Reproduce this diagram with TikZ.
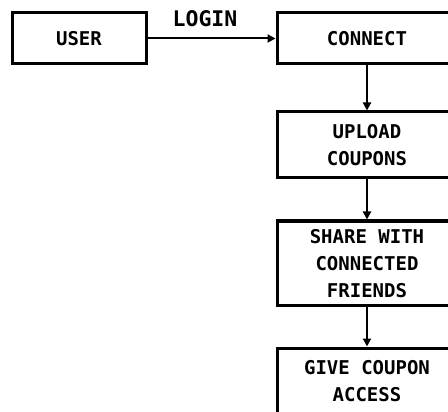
\documentclass[tikz,border=0pt]{standalone}
\usepackage{fontspec}
\setmonofont{DejaVu Sans Mono}
\usetikzlibrary{arrows.meta}
\begin{document}
\begin{tikzpicture}[x=1pt,y=-1pt,
  box/.style={draw=black, line width=3pt, inner sep=0pt, align=center,
    font=\ttfamily\bfseries\fontsize{19}{27}\selectfont},
  multi/.style={text depth=-6pt},
  conn/.style={line width=2pt, -{Triangle[length=8pt,width=8pt]}}]
\useasboundingbox (0,0) rectangle (448,412);
\clip (0,0) rectangle (448,412);
\fill[white] (0,0) rectangle (448,412);
\node[box, minimum width=134pt, minimum height=51pt] (user) at (79,38.5) {USER};
\node[box, minimum width=180pt, minimum height=51pt] (connect) at (367,38.5) {CONNECT};
\node[box, multi, minimum width=180pt, minimum height=66pt] (upload) at (367,145) {UPLOAD\\COUPONS};
\node[box, multi, minimum width=180pt, minimum height=84pt] (share) at (367,263) {SHARE WITH\\CONNECTED\\FRIENDS};
\node[box, multi, minimum width=180pt, minimum height=66pt] (give) at (367,381) {GIVE COUPON\\ACCESS};
\node[anchor=base, inner sep=0pt, font=\ttfamily\bfseries\fontsize{21.5}{24}\selectfont] (login) at (205,26.7) {LOGIN};
\draw[conn] (user.east) -- (connect.west);
\draw[conn] (connect.south) -- (upload.north);
\draw[conn] (upload.south) -- (share.north);
\draw[conn] (share.south) -- (give.north);
\end{tikzpicture}
\end{document}
